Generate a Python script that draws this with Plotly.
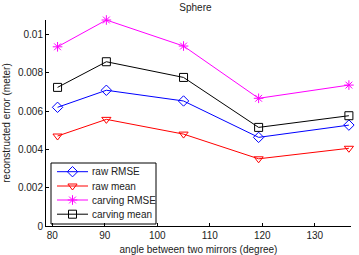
import plotly.graph_objects as go

angles = [81.0, 90.3, 105.0, 119.3, 136.5]
raw_rmse = [0.0062, 0.00709, 0.00653, 0.00463, 0.00527]
raw_mean = [0.0047, 0.00557, 0.0048, 0.00351, 0.00406]
carving_rmse = [0.00936, 0.01076, 0.0094, 0.00667, 0.00736]
carving_mean = [0.00724, 0.00858, 0.00776, 0.00515, 0.00576]

x_ticks = [80, 90, 100, 110, 120, 130]
y_ticks = [0, 0.002, 0.004, 0.006, 0.008, 0.01]
y_tick_labels = ["0", "0.002", "0.004", "0.006", "0.008", "0.01"]

series = [
    ("raw RMSE", raw_rmse, "#0000ff", "diamond-open"),
    ("raw mean", raw_mean, "#ff0000", "triangle-down-open"),
    ("carving RMSE", carving_rmse, "#ff00ff", "asterisk-open"),
    ("carving mean", carving_mean, "#000000", "square-open"),
]

FAM = "Liberation Sans, Arial, Helvetica, sans-serif"
TXT = "#222222"

# plot area in pixels
W, H = 359, 255
ML, MR, MT, MB = 46, 8, 20, 29
PW, PH = W - ML - MR, H - MT - MB

fig = go.Figure()
for name, vals, color, sym in series:
    fig.add_trace(go.Scatter(
        x=angles, y=vals, name=name, mode="lines+markers", showlegend=False,
        line=dict(color=color, width=1),
        marker=dict(symbol=sym, size=8, color=color, line=dict(color=color, width=1)),
        cliponaxis=False,
    ))

# custom compact legend (pixel layout on an overlay axis)
leg_left, leg_right, leg_top, leg_bottom = 51, 156, 163, 224
row_y = [171.7, 186.0, 200.0, 214.2]
sample_x0, sample_x1, text_x = 57, 88, 90

fig.add_shape(type="rect", xref="paper", yref="paper",
              x0=(leg_left - ML) / PW, x1=(leg_right - ML) / PW,
              y0=(MT + PH - leg_bottom) / PH, y1=(MT + PH - leg_top) / PH,
              line=dict(color="black", width=1), fillcolor="white", layer="below")

for (name, vals, color, sym), ry in zip(series, row_y):
    v = MT + PH - ry
    fig.add_trace(go.Scatter(
        x=[sample_x0 - ML, sample_x1 - ML], y=[v, v], mode="lines",
        line=dict(color=color, width=1), showlegend=False, hoverinfo="skip",
        xaxis="x2", yaxis="y2"))
    fig.add_trace(go.Scatter(
        x=[(sample_x0 + sample_x1) / 2 - ML], y=[v], mode="markers",
        marker=dict(symbol=sym, size=8, color=color, line=dict(color=color, width=1)),
        showlegend=False, hoverinfo="skip", xaxis="x2", yaxis="y2"))
    fig.add_annotation(x=(text_x - ML) / PW, y=v / PH, xref="paper", yref="paper",
                       text=name, showarrow=False, xanchor="left", yanchor="middle",
                       font=dict(family=FAM, size=10, color=TXT))

fig.update_layout(
    width=W, height=H,
    margin=dict(l=ML, r=MR, t=MT, b=MB),
    paper_bgcolor="white", plot_bgcolor="white",
    font=dict(family=FAM, size=10, color=TXT),
    title=dict(text="Sphere", xref="paper", x=0.49, xanchor="center",
               y=1 - 4 / H, yanchor="top",
               font=dict(size=10, family=FAM, color=TXT)),
    showlegend=False,
    xaxis=dict(range=[78.8, 136.9], tickvals=x_ticks, showgrid=False, zeroline=False,
               showline=True, linecolor="black", linewidth=1, ticks="inside", ticklen=3,
               tickcolor="black", tickfont=dict(size=10, family=FAM, color=TXT),
               automargin=False,
               title=dict(text="angle between two mirrors (degree)", standoff=5,
                          font=dict(size=10, family=FAM, color=TXT))),
    yaxis=dict(range=[0, 0.01076], tickvals=y_ticks, ticktext=y_tick_labels,
               showgrid=False, zeroline=False,
               showline=True, linecolor="black", linewidth=1, ticks="inside", ticklen=3,
               tickcolor="black", tickfont=dict(size=10, family=FAM, color=TXT),
               automargin=False,
               title=dict(text="reconstructed error (meter)", standoff=5,
                          font=dict(size=10, family=FAM, color=TXT))),
    xaxis2=dict(range=[0, PW], overlaying="x", anchor="y2", visible=False,
                fixedrange=True),
    yaxis2=dict(range=[0, PH], overlaying="y", anchor="x2", visible=False,
                fixedrange=True),
)

fig.write_html("out.html", config={"displayModeBar": False},
               post_script="document.body.style.margin='0';document.body.style.overflow='hidden';")
